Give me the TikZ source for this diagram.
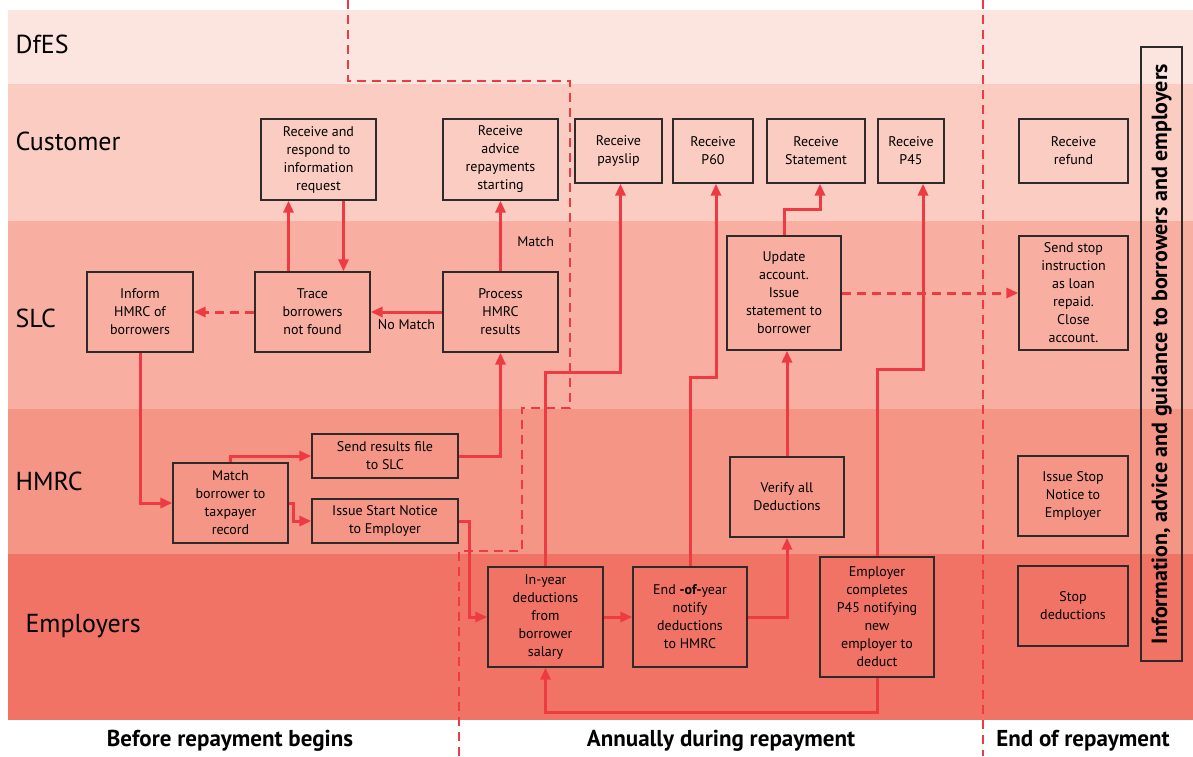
\documentclass[tikz,border=0pt]{standalone}
\usepackage{fontspec}
\setmainfont{PT Sans}
\usepackage{tikz}
\usetikzlibrary{arrows.meta,positioning}
\definecolor{laneA}{HTML}{FCE5DF}
\definecolor{laneB}{HTML}{FBCCC1}
\definecolor{laneC}{HTML}{F8AFA1}
\definecolor{laneD}{HTML}{F59585}
\definecolor{laneE}{HTML}{F07366}
\definecolor{flowred}{HTML}{EE3B43}
\definecolor{boxline}{HTML}{2E2A2A}

\begin{document}
\begin{tikzpicture}[x=1pt, y=-1pt,
        box/.style={draw=boxline, line width=1.3pt, align=center, inner sep=0pt, font=\fontsize{14}{18}\selectfont},
        flow/.style={draw=flowred, line width=3pt, -{Triangle[length=12pt,width=10pt]}},
        dflow/.style={flow, dash pattern=on 9pt off 6pt},
        sep/.style={draw=flowred, line width=2.5pt, dash pattern=on 9pt off 6pt},
        edgetxt/.style={font=\fontsize{14}{18}\selectfont},
        lanetxt/.style={anchor=west, font=\fontsize{26}{30}\selectfont},
        phase/.style={font=\fontsize{23}{27}\selectfont\bfseries}]
        \useasboundingbox (0,0) rectangle (1193,756);

        \fill[laneA] (8,10) rectangle (1193,84);
        \fill[laneB] (8,84) rectangle (1193,221);
        \fill[laneC] (8,221) rectangle (1193,409);
        \fill[laneD] (8,409) rectangle (1193,554);
        \fill[laneE] (8,554) rectangle (1193,720);

        \node[lanetxt] (ldfes) at (12,44) {DfES};
        \node[lanetxt] (lcust) at (12,141) {Customer};
        \node[lanetxt] (lslc) at (12,318) {SLC};
        \node[lanetxt] (lhmrc) at (12,481) {HMRC};
        \node[lanetxt] (lemp) at (22,626) {Employers};

        \draw[sep] (348,0) -- (348,81) -- (570,81) -- (570,408) -- (522,408) -- (522,551) -- (459,551) -- (459,756);
        \draw[sep] (983,0) -- (983,756);

        \node[box, minimum width=115pt, minimum height=81pt] (respond) at (318.5,159.5) {Receive and\\respond to\\information\\request};
        \node[box, minimum width=115pt, minimum height=81pt] (advice) at (500.5,159.5) {Receive\\advice\\repayments\\starting};
        \node[box, minimum width=87pt, minimum height=64pt] (payslip) at (618.5,151) {Receive\\payslip};
        \node[box, minimum width=80pt, minimum height=64pt] (p60) at (713,151) {Receive\\P60};
        \node[box, minimum width=98pt, minimum height=64pt] (statement) at (816,151) {Receive\\Statement};
        \node[box, minimum width=66pt, minimum height=64pt] (p45) at (911,151) {Receive\\P45};
        \node[box, minimum width=109pt, minimum height=64pt] (refund) at (1073.5,151) {Receive\\refund};

        \node[box, minimum width=106pt, minimum height=80pt] (inform) at (140,312) {Inform\\HMRC of\\borrowers};
        \node[box, minimum width=115pt, minimum height=80pt] (trace) at (312.5,312) {Trace\\borrowers\\not found};
        \node[box, minimum width=115pt, minimum height=80pt] (process) at (500.5,312) {Process\\HMRC\\results};
        \node[box, minimum width=114pt, minimum height=114pt] (update) at (784,293) {Update\\account.\\Issue\\statement to\\borrower};
        \node[box, minimum width=109pt, minimum height=114pt] (sendstop) at (1073.5,293) {Send stop\\instruction\\as loan\\repaid.\\Close\\account.};

        \node[box, minimum width=115pt, minimum height=80pt] (match) at (230.5,503) {Match\\borrower to\\taxpayer\\record};
        \node[box, minimum width=146pt, minimum height=44pt] (sendres) at (385,456) {Send results file\\to SLC};
        \node[box, minimum width=146pt, minimum height=44pt] (startn) at (385,521) {Issue Start Notice\\to Employer};
        \node[box, minimum width=114pt, minimum height=80pt] (verify) at (787,497) {Verify all\\Deductions};
        \node[box, minimum width=110pt, minimum height=80pt] (stopnotice) at (1073,496) {Issue Stop\\Notice to\\Employer};

        \node[box, minimum width=115pt, minimum height=100pt] (inyear) at (545.5,617) {In-year\\deductions\\from\\borrower\\salary};
        \node[box, minimum width=114pt, minimum height=100pt] (endyear) at (690,617) {End \textbf{-of-}year\\notify\\deductions\\to HMRC};
        \node[box, minimum width=114pt, minimum height=120pt] (p45emp) at (877,617) {Employer\\completes\\P45 notifying\\new\\employer to\\deduct};
        \node[box, minimum width=110pt, minimum height=80pt] (stopded) at (1073,606) {Stop\\deductions};

        \node[box, rotate=90, minimum width=614pt, minimum height=41pt, font=\fontsize{22}{26}\selectfont\bfseries] (guide) at (1161.5,354) {Information, advice and guidance to borrowers and employers};

        \draw[flow] ([xshift=-24]trace.north) -- ([xshift=-24]trace.north |- respond.south);
        \draw[flow] ([xshift=25]respond.south) -- ([xshift=25]respond.south |- trace.north);
        \draw[dflow] (trace.west) -- (inform.east);
        \draw[flow] (process.west) -- node[edgetxt, below=3pt] {No Match} (trace.east);
        \draw[flow] (process.north) -- node[edgetxt, pos=0.42, right=12pt] {Match} (advice.south);

        \draw[flow] (inform.south) |- (match.west);
        \draw[flow] (match.north) |- (sendres.west);
        \draw[flow] (match.east) -- ++(5,0) |- (startn.west);
        \draw[flow] (sendres.east) -| (process.south);
        \draw[flow] (startn.east) -- ++(11,0) |- (inyear.west);

        \draw[flow] (inyear.north) -- ++(0,-194) -| ([xshift=2]payslip.south);
        \draw[flow] (endyear.north) -- ++(0,-189) -| ([xshift=3]p60.south);
        \draw[flow] (inyear.east) -- (endyear.west);
        \draw[flow] (endyear.east) -| (verify.south);
        \draw[flow] (verify.north) -- (verify.north |- update.south);
        \draw[flow] (update.north) -- ++(0,-26) -| ([xshift=4]statement.south);
        \draw[flow] (p45emp.north) -- ++(0,-187) -| ([xshift=12]p45.south);
        \draw[flow] (p45emp.south) -- ++(0,35) -| (inyear.south);
        \draw[dflow] (update.east) -- (sendstop.west);

        \node[phase] (before) at (230,741) {Before repayment begins};
        \node[phase] (annual) at (721,741) {Annually during repayment};
        \node[phase] (endrep) at (1083,741) {End of repayment};
    \end{tikzpicture}
\end{document}
